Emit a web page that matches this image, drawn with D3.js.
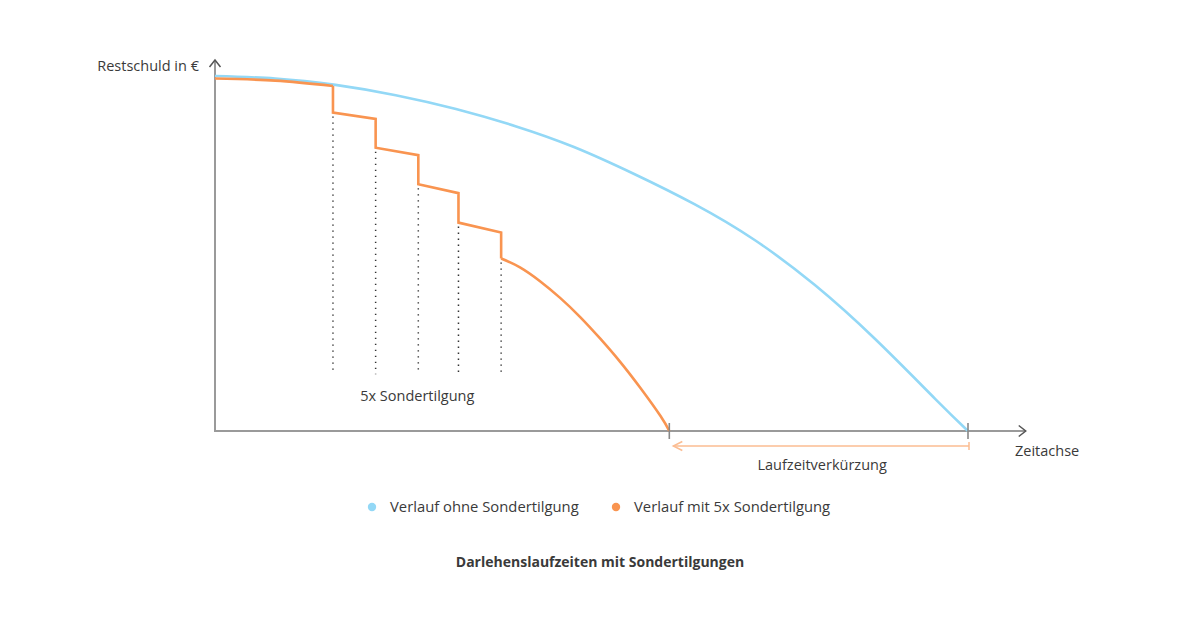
<!DOCTYPE html>
<html>
<head>
<meta charset="utf-8">
<script src="https://cdn.jsdelivr.net/npm/d3@7"></script>
<style>
  html, body { margin: 0; padding: 0; background: #ffffff; }
  svg { display: block; }
  text { font-family: "Open Sans", sans-serif; fill: #3a3a3a; }
</style>
</head>
<body>
<svg id="chart" width="1200" height="630"></svg>
<script>
// ---- Data (time in years, Restschuld in % of the loan) ----
const blueTimes  = [0, 2.4, 4.8, 7.2, 9.6, 12, 14.3, 16.7, 19.1, 21.5, 23.9, 26.3, 28.7, 30];
const blueValues = [100, 99.3, 97.5, 94.6, 90.7, 85.8, 80.0, 72.4, 63.9, 53.8, 41.1, 25.9, 9.0, 0];

const orangeStartTimes  = [0, 2.4];
const orangeStartValues = [99.3, 98.7];
const sonderTimes   = [4.7, 6.4, 8.1, 9.7, 11.4];
const valuesBefore  = [97.2, 87.9, 77.7, 67.0, 55.9];
const valuesAfter   = [89.7, 79.8, 69.5, 58.7, 48.6];
const orangeTailTimes  = [11.4, 12.15, 12.95, 13.75, 14.55, 15.35, 16.15, 16.95, 17.75, 18.1];
const orangeTailValues = [48.6, 46.1, 42.2, 37.5, 32.1, 26.0, 19.4, 12.1, 4.2, 0];

const dotLineBottom = 16;   // value where the dotted guides end
const axisMaxTime = 32.3;   // end of the time axis (arrow tip)
const axisMaxValue = 104.5; // end of the value axis (arrow tip)

const labels = {
  yAxis: "Restschuld in €",
  xAxis: "Zeitachse",
  sonder: "5x Sondertilgung",
  saving: "Laufzeitverkürzung",
  legend: ["Verlauf ohne Sondertilgung", "Verlauf mit 5x Sondertilgung"],
  title: "Darlehenslaufzeiten mit Sondertilgungen"
};

const BLUE = "#93d8f6";
const ORANGE = "#f99450";
const ORANGE_LIGHT = "#fbbd92";
const AXIS = "#9a9a9a";
const ARROW = "#555555";

// ---- Scales ----
const x = d3.scaleLinear().domain([0, 30]).range([215, 968]);
const y = d3.scaleLinear().domain([0, 100]).range([431, 76]);

const svg = d3.select("#chart");

// ---- Axes ----
svg.append("line").attr("x1", x(0)).attr("x2", x(0))
  .attr("y1", y(0)).attr("y2", y(axisMaxValue))
  .attr("stroke", AXIS).attr("stroke-width", 2);
svg.append("line").attr("x1", x(0) - 1).attr("x2", x(axisMaxTime))
  .attr("y1", y(0)).attr("y2", y(0))
  .attr("stroke", AXIS).attr("stroke-width", 2);

// arrowheads
const yt = [x(0), y(axisMaxValue)];
svg.append("path").attr("d", `M${yt[0]-5.5},${yt[1]+7}L${yt[0]},${yt[1]}L${yt[0]+5.5},${yt[1]+7}`)
  .attr("fill", "none").attr("stroke", ARROW).attr("stroke-width", 1.5);
const xt = [x(axisMaxTime), y(0)];
svg.append("path").attr("d", `M${xt[0]-7},${xt[1]-5.5}L${xt[0]},${xt[1]}L${xt[0]-7},${xt[1]+5.5}`)
  .attr("fill", "none").attr("stroke", ARROW).attr("stroke-width", 1.5);

// ---- Dotted guides ----
svg.selectAll("line.guide").data(sonderTimes).enter().append("line")
  .attr("class", "guide")
  .attr("x1", d => x(d)).attr("x2", d => x(d))
  .attr("y1", (d, i) => y(valuesAfter[i]) + 4)
  .attr("y2", y(dotLineBottom))
  .attr("stroke", "#333").attr("stroke-width", 1.5)
  .attr("stroke-dasharray", "1.3,4.7");

// ---- Lines ----
const lineSmooth = d3.line().x(d => x(d[0])).y(d => y(d[1])).curve(d3.curveNatural);
const lineStraight = d3.line().x(d => x(d[0])).y(d => y(d[1]));

svg.append("path")
  .attr("d", lineSmooth(blueTimes.map((t, i) => [t, blueValues[i]])))
  .attr("fill", "none").attr("stroke", BLUE).attr("stroke-width", 2.6);

const startPts = orangeStartTimes.map((t, i) => [t, orangeStartValues[i]]);
startPts.push([sonderTimes[0], valuesBefore[0]]);
svg.append("path").attr("d", lineSmooth(startPts))
  .attr("fill", "none").attr("stroke", ORANGE).attr("stroke-width", 2.6);

const stepPts = [];
sonderTimes.forEach((t, i) => {
  stepPts.push([t, valuesBefore[i]]);
  stepPts.push([t, valuesAfter[i]]);
});
svg.append("path").attr("d", lineStraight(stepPts))
  .attr("fill", "none").attr("stroke", ORANGE).attr("stroke-width", 2.6)
  .attr("stroke-linejoin", "miter");

svg.append("path")
  .attr("d", lineSmooth(orangeTailTimes.map((t, i) => [t, orangeTailValues[i]])))
  .attr("fill", "none").attr("stroke", ORANGE).attr("stroke-width", 2.6);

// ---- End ticks on the time axis ----
const endTimes = [orangeTailTimes[orangeTailTimes.length - 1], blueTimes[blueTimes.length - 1]];
svg.selectAll("line.endtick").data(endTimes).enter().append("line")
  .attr("class", "endtick")
  .attr("x1", d => x(d)).attr("x2", d => x(d))
  .attr("y1", y(0) - 8).attr("y2", y(0) + 8)
  .attr("stroke", "#888").attr("stroke-width", 1.6);

// ---- Laufzeitverkürzung arrow ----
const ay = y(0) + 15;
const ax1 = x(endTimes[0]) + 4, ax2 = x(endTimes[1]) + 1;
svg.append("line").attr("x1", ax1).attr("x2", ax2).attr("y1", ay).attr("y2", ay)
  .attr("stroke", ORANGE_LIGHT).attr("stroke-width", 1.5);
svg.append("path").attr("d", `M${ax1+9},${ay-4.5}L${ax1},${ay}L${ax1+9},${ay+4.5}`)
  .attr("fill", "none").attr("stroke", ORANGE_LIGHT).attr("stroke-width", 1.5);
svg.append("line").attr("x1", ax2).attr("x2", ax2).attr("y1", ay - 4).attr("y2", ay + 4)
  .attr("stroke", ORANGE_LIGHT).attr("stroke-width", 1.5);

// ---- Texts ----
svg.append("text").attr("x", 199).attr("y", 71).attr("text-anchor", "end")
  .attr("font-size", 14.5).text(labels.yAxis);
svg.append("text").attr("x", 1015).attr("y", 456)
  .attr("font-size", 14.5).text(labels.xAxis);
svg.append("text").attr("x", d3.mean(sonderTimes, d => x(d))).attr("y", 401)
  .attr("text-anchor", "middle").attr("font-size", 14.5).text(labels.sonder);
svg.append("text").attr("x", (ax1 + ax2) / 2 + 1).attr("y", 470)
  .attr("text-anchor", "middle").attr("font-size", 14.5).text(labels.saving);

// ---- Legend ----
const legendItems = [
  { label: labels.legend[0], color: BLUE, cx: 372 },
  { label: labels.legend[1], color: ORANGE, cx: 616 }
];
const lg = svg.selectAll("g.legend").data(legendItems).enter().append("g").attr("class", "legend");
lg.append("circle").attr("cx", d => d.cx).attr("cy", 507).attr("r", 4.2).attr("fill", d => d.color);
lg.append("text").attr("x", d => d.cx + 18).attr("y", 512).attr("font-size", 14.8).text(d => d.label);

// ---- Title ----
svg.append("text").attr("x", 600).attr("y", 567).attr("text-anchor", "middle")
  .attr("font-size", 14).attr("font-weight", "bold").text(labels.title);
</script>
</body>
</html>
